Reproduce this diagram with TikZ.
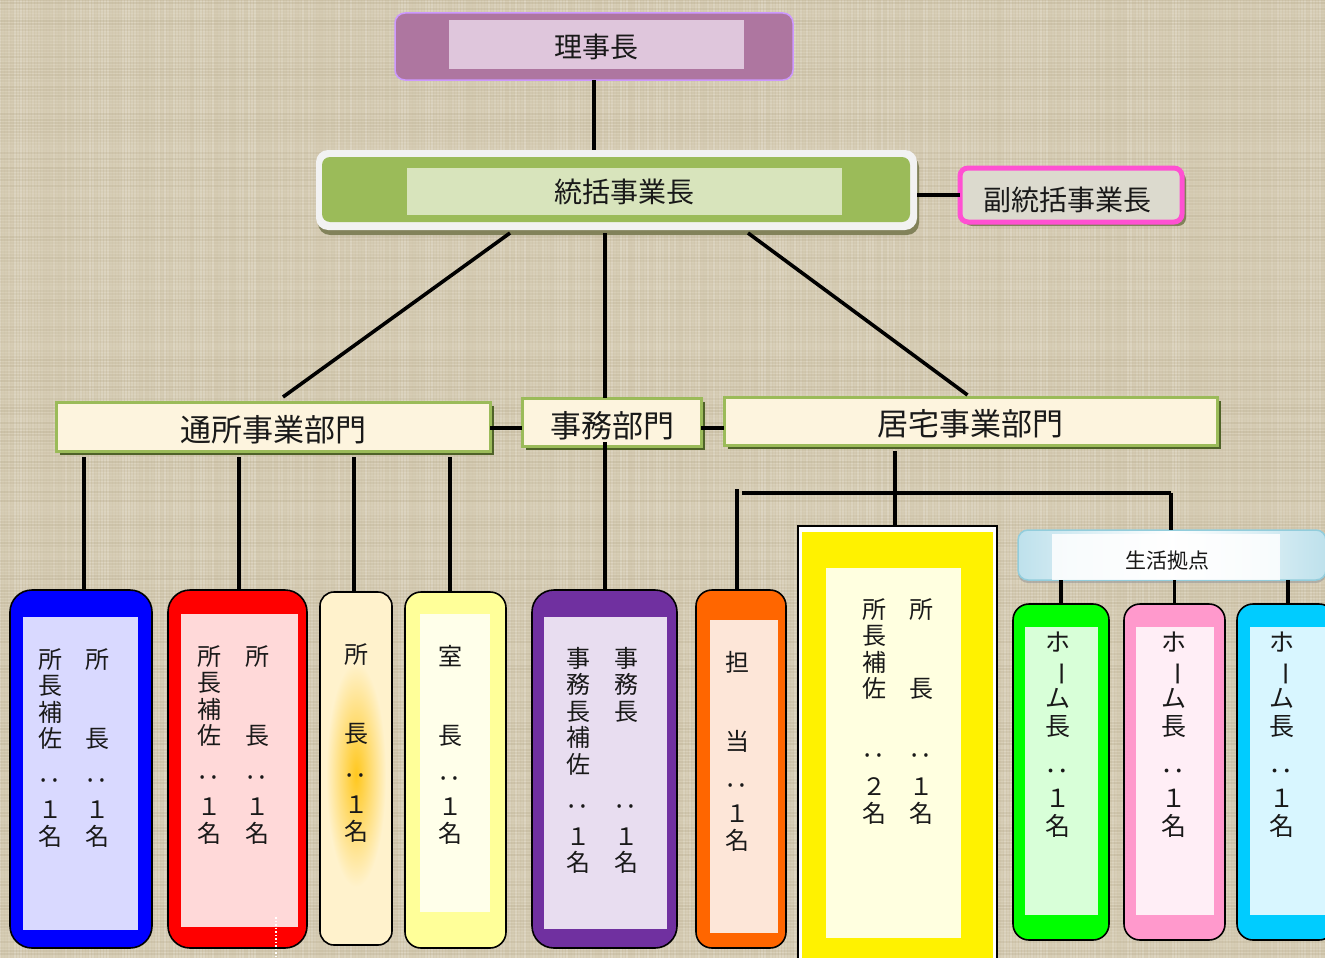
\documentclass[tikz,border=0pt]{standalone}
\usepackage{fontspec}
\newfontfamily\cjk{Noto Sans CJK JP}
\usetikzlibrary{calc,shadows}
\definecolor{bg}{RGB}{213,203,178}
\definecolor{bgD}{RGB}{150,135,100}
\definecolor{txt}{RGB}{25,25,25}
\definecolor{mauve}{RGB}{174,118,160}
\definecolor{mauveB}{RGB}{204,153,255}
\definecolor{mauveIn}{RGB}{223,198,220}
\definecolor{grn}{RGB}{155,187,89}
\definecolor{grnIn}{RGB}{216,228,188}
\definecolor{frm}{RGB}{242,242,242}
\definecolor{pinkB}{RGB}{255,80,210}
\definecolor{greyIn}{RGB}{220,218,206}
\definecolor{cream}{RGB}{253,244,222}
\definecolor{olive}{RGB}{79,98,40}
\definecolor{oliveL}{RGB}{130,130,90}
\definecolor{blueIn}{RGB}{217,217,255}
\definecolor{redIn}{RGB}{255,217,217}
\definecolor{creamC}{RGB}{255,242,204}
\definecolor{glow}{RGB}{255,192,0}
\definecolor{ylwS}{RGB}{255,255,153}
\definecolor{ylwSIn}{RGB}{255,255,234}
\definecolor{purp}{RGB}{112,48,160}
\definecolor{purpIn}{RGB}{232,221,240}
\definecolor{orng}{RGB}{255,102,0}
\definecolor{orngIn}{RGB}{253,230,216}
\definecolor{bigIn}{RGB}{255,255,224}
\definecolor{skyB}{RGB}{146,205,220}
\definecolor{skyL}{RGB}{190,225,236}
\definecolor{lime}{RGB}{0,255,0}
\definecolor{limeIn}{RGB}{216,255,216}
\definecolor{pnk}{RGB}{255,153,204}
\definecolor{pnkIn}{RGB}{255,238,246}
\definecolor{cyn}{RGB}{0,204,255}
\definecolor{cynIn}{RGB}{216,246,255}
\newcommand\vc{\rotatebox[origin=c]{90}{：}}
\newcommand\vbar{\rotatebox[origin=c]{-90}{ー}}
\begin{document}
\begin{tikzpicture}[x=1pt,y=-1pt,
  box/.style={inner sep=0,outer sep=0},
  conn/.style={draw=black,line width=3.2},
  dept/.style={box,draw=grn,line width=3,fill=cream,
    drop shadow={shadow xshift=4pt,shadow yshift=-4pt,fill=olive,opacity=1}},
  col/.style={box,draw=black,line width=1.6,rounded corners=18},
  inb/.style={box,draw=none},
  ttl/.style={font=\cjk\fontsize{28}{30}\selectfont,text=txt,inner sep=0},
  dtt/.style={font=\cjk\fontsize{31}{33}\selectfont,text=txt,inner sep=0},
  vtxt/.style={font=\cjk\fontsize{24}{26.5}\selectfont,align=center,inner sep=0,anchor=north,text=txt},
  htxt/.style={font=\cjk\fontsize{25}{28}\selectfont,align=center,inner sep=0,anchor=north,text=txt}]
\useasboundingbox (0,0) rectangle (1325,958);
\clip (0,0) rectangle (1325,958);
% background (woven texture)
\fill[bg] (0,0) rectangle (1325,958);
\pgfmathsetseed{7}
\foreach \i in {0,3,...,1324}{\pgfmathsetmacro\o{0.03+0.2*rnd}\draw[white,opacity=\o,line width=1.5] (\i,0)--(\i,958);}
\foreach \j in {0,3,...,956}{\pgfmathsetmacro\o{0.02+0.16*rnd}\draw[bgD,opacity=\o,line width=1.5] (0,\j)--(1325,\j);}

% ---- boxes (nodes) ----
\node[box,draw=mauveB,line width=1.5,fill=mauve,rounded corners=10,minimum width=398,minimum height=67] (riji) at (594,46.5) {};
\node[inb,fill=mauveIn,minimum width=295,minimum height=49] (rijiIn) at (596.5,45) {};

\node[box,fill=frm,rounded corners=12,minimum width=601,minimum height=80,
  drop shadow={shadow xshift=2pt,shadow yshift=-5pt,fill=oliveL,opacity=1}] (sokatsu) at (616.5,190) {};
\node[inb,fill=grn,rounded corners=8,minimum width=588,minimum height=65] (sokatsuG) at (616,189.5) {};
\node[inb,fill=grnIn,minimum width=435,minimum height=47] (sokatsuIn) at (624.5,191.5) {};

\node[box,draw=pinkB,line width=5,fill=greyIn,rounded corners=8,minimum width=222,minimum height=54,
  drop shadow={shadow xshift=4pt,shadow yshift=-4pt,fill=oliveL,opacity=1}] (fuku) at (1071,195) {};

% connectors (behind the lower boxes)
\draw[conn] (riji.south) -- (riji.south |- sokatsu.north);
\draw[conn] (sokatsu.east |- fuku.west) -- (fuku.west);
\coordinate (sL) at ([xshift=-106.5,yshift=-3]sokatsu.south);
\coordinate (sM) at ([xshift=-11.5,yshift=-3]sokatsu.south);
\coordinate (sR) at ([xshift=131.5,yshift=-3]sokatsu.south);
\coordinate (hbL) at (737,493);
\coordinate (hbM) at (895,493);
\coordinate (hbR) at (1171,493);

\node[dept,minimum width=434,minimum height=49] (tsusho) at (273,426.5) {};
\node[dept,minimum width=179,minimum height=48] (jimu) at (611.5,422) {};
\node[dept,minimum width=493,minimum height=48] (kyotaku) at (970.5,421) {};

% column boxes
\node[col,fill=blue,rounded corners=22,minimum width=142,minimum height=358] (blue) at (81,769) {};
\node[col,fill=red,rounded corners=22,minimum width=139,minimum height=358] (red) at (237.5,769) {};
\node[col,fill=creamC,rounded corners=14,minimum width=72,minimum height=353] (cream) at (356,768.5) {};
\node[col,fill=ylwS,rounded corners=16,minimum width=101,minimum height=356] (ylw) at (455.5,770) {};
\node[col,fill=purp,rounded corners=22,minimum width=145,minimum height=358] (purple) at (604.5,769) {};
\node[col,fill=orng,rounded corners=16,minimum width=90,minimum height=358] (orange) at (741,769) {};
\node[box,draw=black,line width=1.2,fill=white,minimum width=199,minimum height=460] (bigY) at (897.5,756) {};
\node[col,fill=lime,rounded corners=16,minimum width=96,minimum height=336] (green) at (1061,772) {};
\node[col,fill=pnk,rounded corners=16,minimum width=101,minimum height=336] (pink) at (1174.5,772) {};
\node[col,fill=cyn,rounded corners=16,minimum width=98,minimum height=336] (cyan) at (1286,772) {};
\node[box,draw=skyB,line width=1.5,rounded corners=10,left color=skyL,right color=skyL,middle color=white,
  minimum width=308,minimum height=50,
  drop shadow={shadow xshift=0pt,shadow yshift=-3pt,fill=black!40,opacity=.6}] (seikatsu) at (1172,555) {};

% inner panels
\node[inb,fill=blueIn,minimum width=115,minimum height=313] (blueIn) at (80.5,773.5) {};
\node[inb,fill=redIn,minimum width=117,minimum height=313] (redIn) at (239.5,770.5) {};
\shade[inner color=glow!85!creamC,outer color=creamC] (356,775) ellipse (30 and 112);
\node[inb,fill=ylwSIn,minimum width=70,minimum height=298] (ylwIn) at (455,763) {};
\node[inb,fill=purpIn,minimum width=123,minimum height=312] (purpleIn) at (605.5,773) {};
\node[inb,fill=orngIn,minimum width=68,minimum height=313] (orangeIn) at (744,776.5) {};
\node[inb,fill=yellow,minimum width=191,minimum height=450] (bigYY) at (897.5,757) {};
\node[inb,fill=bigIn,minimum width=135,minimum height=370] (bigYIn) at (893.5,753) {};
\node[inb,fill=limeIn,minimum width=73,minimum height=288] (greenIn) at (1061.5,771) {};
\node[inb,fill=pnkIn,minimum width=78,minimum height=288] (pinkIn) at (1175,771) {};
\node[inb,fill=cynIn,minimum width=80,minimum height=288] (cyanIn) at (1290,771) {};
\node[inb,fill=white,opacity=.85,minimum width=228,minimum height=46] (seikatsuIn) at (1166,556.5) {};
\draw[white,dotted,line width=1.5] ([xshift=38.5,yshift=31]red.south) -- ([xshift=38.5,yshift=-10]red.south);

% connectors
\draw[conn,line width=3.6] (sL) -- ([xshift=10,yshift=5]tsusho.north);
\draw[conn,line width=3.6] (sR) -- ([xshift=-3,yshift=2]kyotaku.north);
\draw[conn] (sM) -- (sM |- jimu.north);
\draw[conn] ([yshift=-20]jimu.center -| sM) -- (sM |- purple.north);
\draw[conn] ([yshift=-1.5]tsusho.east) -- ([yshift=-1.5]tsusho.east -| jimu.west);
\draw[conn] ([yshift=-6]jimu.east) -- ([yshift=-6]jimu.east -| kyotaku.west);
\draw[conn] ([xshift=3,yshift=-6]tsusho.south -| blue.north) -- ([xshift=3]blue.north);
\draw[conn] ([xshift=1.5,yshift=-6]tsusho.south -| red.north) -- ([xshift=1.5]red.north);
\draw[conn] ([xshift=-2,yshift=-6]tsusho.south -| cream.north) -- ([xshift=-2]cream.north);
\draw[conn] ([xshift=-5.5,yshift=-6]tsusho.south -| ylw.north) -- ([xshift=-5.5]ylw.north);
\draw[conn] ([yshift=-6]hbM |- kyotaku.south) -- (hbM |- bigY.north);
\draw[conn,line width=4] ([xshift=5]hbL) -- (hbR);
\draw[conn] ([yshift=4]hbL) -- (hbL |- orange.north);
\draw[conn] (hbR) -- (hbR |- seikatsu.north);
\draw[conn] (seikatsu.south -| green.north) -- (green.north);
\draw[conn] (seikatsu.south -| pink.north) -- (pink.north);
\draw[conn] ([xshift=2]seikatsu.south -| cyan.north) -- ([xshift=2]cyan.north);

% ---- texts ----
\node[ttl] (tRiji) at ([yshift=-1.5]rijiIn.center) {理事長};
\node[ttl] (tSokatsu) at (sokatsuIn) {統括事業長};
\node[ttl] (tFuku) at (1067,200) {副統括事業長};
\node[dtt] (tTsusho) at (273,430) {通所事業部門};
\node[dtt] (tJimu) at (612,426) {事務部門};
\node[dtt] (tKyotaku) at (970,424) {居宅事業部門};
\node[font=\cjk\fontsize{21}{23}\selectfont,text=txt,inner sep=0] (tSeikatsu) at (1167,561) {生活拠点};

\node[vtxt] (vBlueL) at (50,648) {所\\長\\補\\佐\\[15pt]\vc\\[3pt]１\\名};
\node[vtxt] (vBlueR) at (97,648) {所\\　\\　\\長\\[15pt]\vc\\[3pt]１\\名};
\node[vtxt] (vRedL) at (209,645) {所\\長\\補\\佐\\[15pt]\vc\\[3pt]１\\名};
\node[vtxt] (vRedR) at (257,645) {所\\　\\　\\長\\[15pt]\vc\\[3pt]１\\名};
\node[vtxt] (vCream) at (356,643) {所\\　\\　\\長\\[15pt]\vc\\[3pt]１\\名};
\node[vtxt] (vYlw) at (450,645) {室\\　\\　\\長\\[15pt]\vc\\[3pt]１\\名};
\node[vtxt] (vPurL) at (578,647) {事\\務\\長\\補\\佐\\[15pt]\vc\\[4pt]１\\名};
\node[vtxt] (vPurR) at (626,647) {事\\務\\長\\　\\　\\[15pt]\vc\\[4pt]１\\名};
\node[vtxt] (vOrange) at (737,651) {担\\　\\　\\当\\[16pt]\vc\\[3pt]１\\名};
\node[vtxt] (vBigL) at (874,598) {所\\長\\補\\佐\\[40pt]\vc\\[5pt]２\\名};
\node[vtxt] (vBigR) at (921,598) {所\\　\\　\\長\\[40pt]\vc\\[5pt]１\\名};
\node[htxt] (vGreen) at (1058,632) {ホ\\\vbar\\ム\\長\\[16pt]\vc\\１\\名};
\node[htxt] (vPink) at (1174,632) {ホ\\\vbar\\ム\\長\\[16pt]\vc\\１\\名};
\node[htxt] (vCyan) at (1282,632) {ホ\\\vbar\\ム\\長\\[16pt]\vc\\１\\名};
\end{tikzpicture}
\end{document}
